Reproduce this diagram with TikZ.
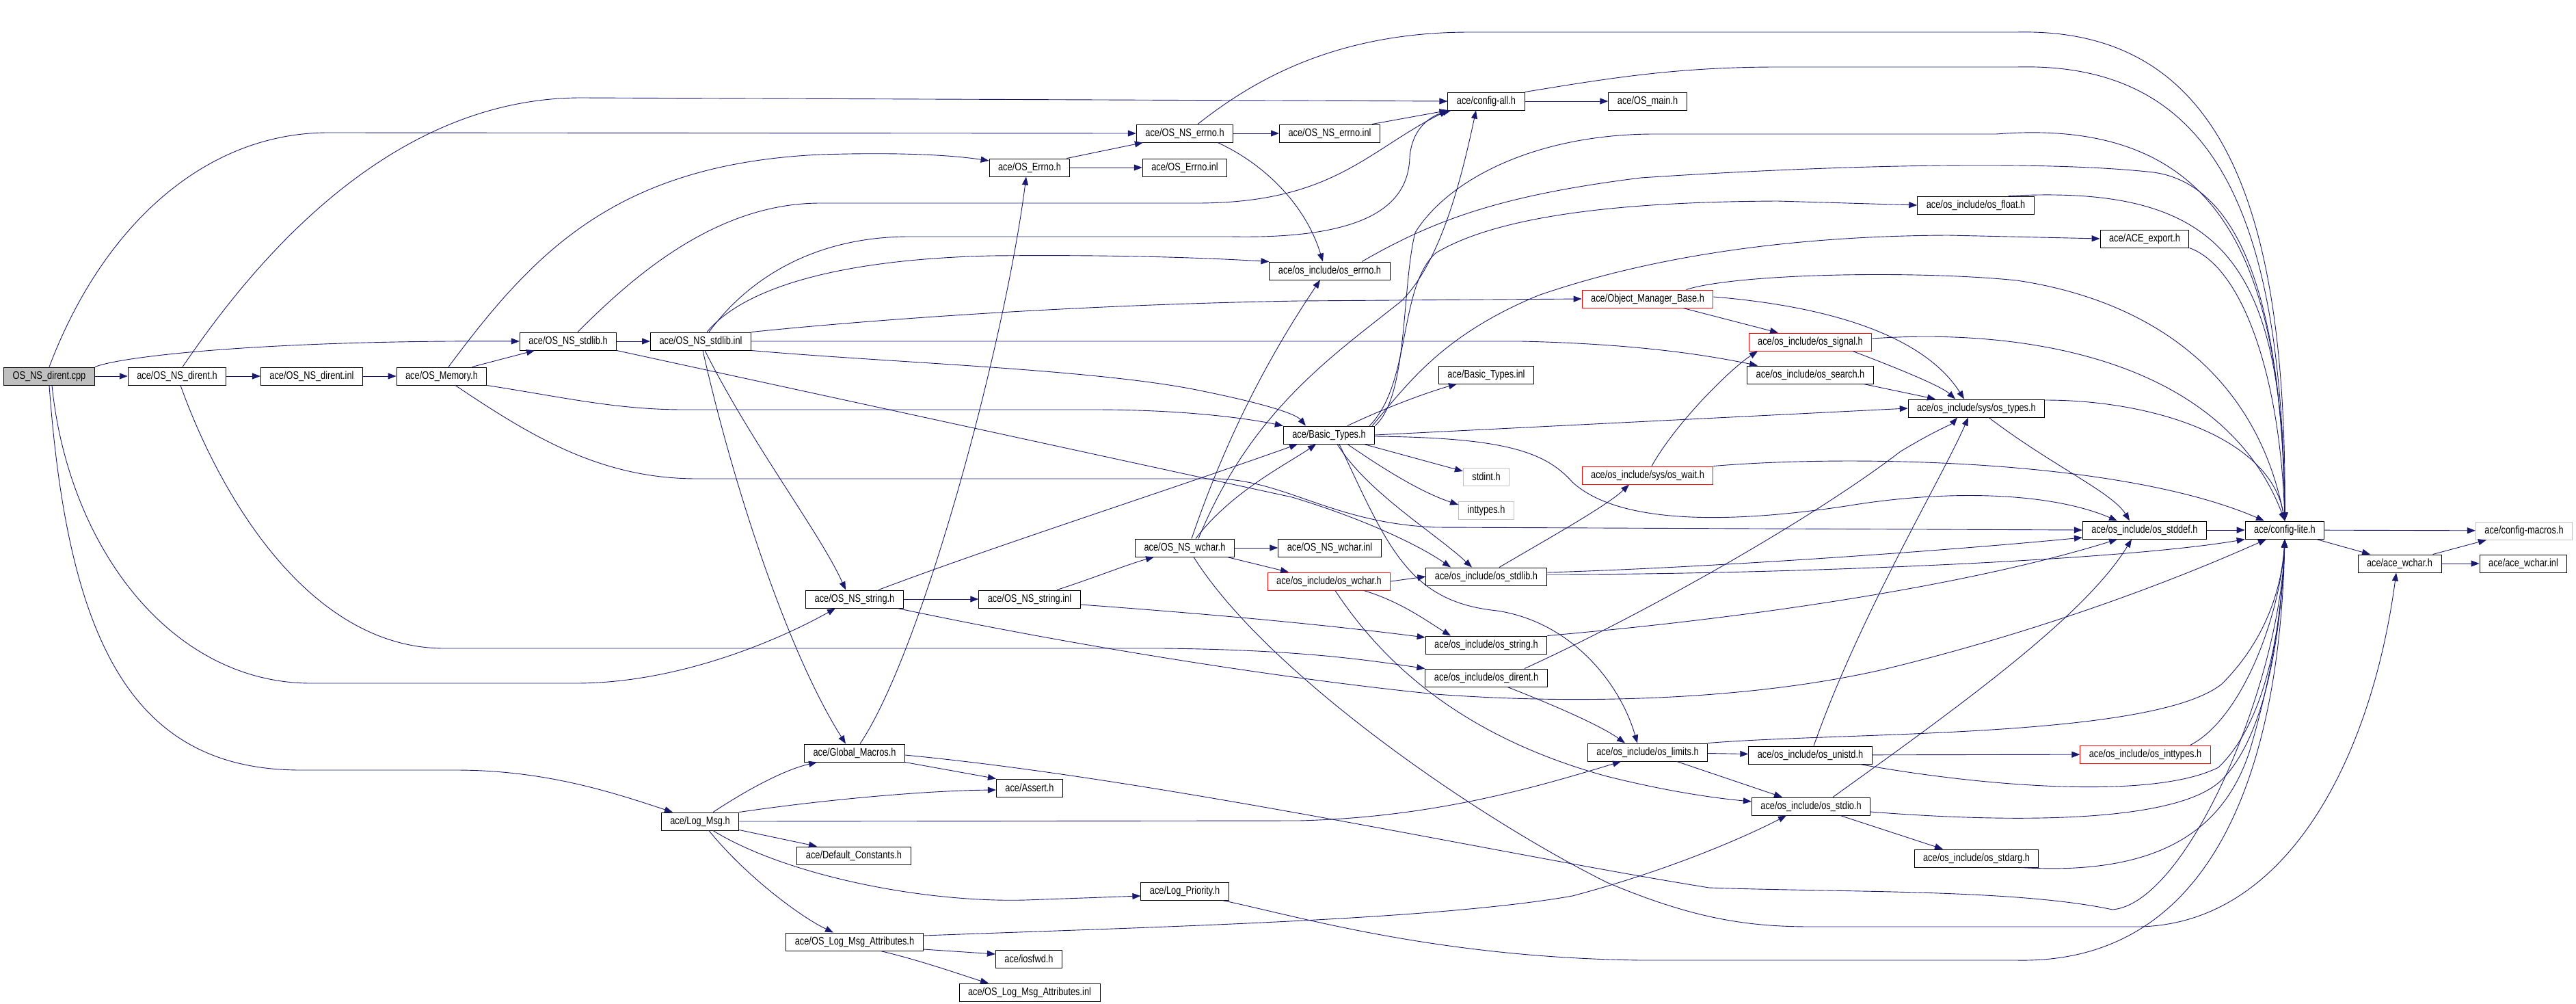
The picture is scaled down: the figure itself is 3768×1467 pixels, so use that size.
\documentclass[tikz,border=0pt]{standalone}
\usepackage{fontspec}
\newfontfamily\dotfont[FakeStretch=0.8]{Liberation Sans}
\usetikzlibrary{arrows.meta}
\definecolor{edgeBlue}{RGB}{25,25,112}
\definecolor{rootGray}{RGB}{191,191,191}

\begin{document}
\begin{tikzpicture}[
        x=1pt, y=-1pt,
        fileNode/.style={rectangle, draw=black, line width=1pt, minimum height=26pt, inner xsep=13pt, inner ysep=0pt, font=\dotfont\fontsize{16}{18}\selectfont},
        rootNode/.style={fileNode, fill=rootGray},
        redNode/.style={fileNode, draw=red},
        grayNode/.style={fileNode, draw=rootGray},
        incEdge/.style={draw=edgeBlue, line width=0.9pt, -{Triangle[length=12pt,width=9pt]}}
    ]
        \useasboundingbox (0,0) rectangle (3768,1467);

        % Root node
        \node[rootNode] (cpp) at (72,550) {OS\_NS\_dirent.cpp};

        % Headers
        \node[fileNode] (nsDirentH) at (259,550) {ace/OS\_NS\_dirent.h};
        \node[fileNode] (nsDirentInl) at (456,550) {ace/OS\_NS\_dirent.inl};
        \node[fileNode] (osMemory) at (646,550) {ace/OS\_Memory.h};
        \node[fileNode] (nsStdlibH) at (831,499) {ace/OS\_NS\_stdlib.h};
        \node[fileNode] (nsStdlibInl) at (1025,499) {ace/OS\_NS\_stdlib.inl};
        \node[fileNode] (nsErrnoH) at (1733,195) {ace/OS\_NS\_errno.h};
        \node[fileNode] (nsErrnoInl) at (1945,195) {ace/OS\_NS\_errno.inl};
        \node[fileNode] (errnoH) at (1506,245) {ace/OS\_Errno.h};
        \node[fileNode] (errnoInl) at (1733,245) {ace/OS\_Errno.inl};
        \node[fileNode] (configAll) at (2174,148) {ace/config-all.h};
        \node[fileNode] (osMain) at (2410,148) {ace/OS\_main.h};
        \node[fileNode] (incErrno) at (1945,396) {ace/os\_include/os\_errno.h};
        \node[redNode] (objMgr) at (2410,437) {ace/Object\_Manager\_Base.h};
        \node[redNode] (incSignal) at (2648,500) {ace/os\_include/os\_signal.h};
        \node[fileNode] (incSearch) at (2648,548) {ace/os\_include/os\_search.h};
        \node[fileNode] (basicTypes) at (1944,636) {ace/Basic\_Types.h};
        \node[fileNode] (basicTypesInl) at (2174,548) {ace/Basic\_Types.inl};
        \node[grayNode] (stdintH) at (2174,697) {stdint.h};
        \node[grayNode] (inttypesH) at (2174,746) {inttypes.h};
        \node[redNode] (incWait) at (2410,695) {ace/os\_include/sys/os\_wait.h};
        \node[fileNode] (incFloat) at (2890,300) {ace/os\_include/os\_float.h};
        \node[fileNode] (aceExport) at (3137,349) {ace/ACE\_export.h};
        \node[fileNode] (incTypes) at (2891,597) {ace/os\_include/sys/os\_types.h};
        \node[fileNode] (nsWcharH) at (1733,801) {ace/OS\_NS\_wchar.h};
        \node[fileNode] (nsWcharInl) at (1945,801) {ace/OS\_NS\_wchar.inl};
        \node[redNode] (incWchar) at (1944,850) {ace/os\_include/os\_wchar.h};
        \node[fileNode] (incStdlib) at (2174,843) {ace/os\_include/os\_stdlib.h};
        \node[fileNode] (incString) at (2174,943) {ace/os\_include/os\_string.h};
        \node[fileNode] (incDirent) at (2174,991) {ace/os\_include/os\_dirent.h};
        \node[fileNode] (incLimits) at (2410,1100) {ace/os\_include/os\_limits.h};
        \node[fileNode] (incUnistd) at (2648,1104) {ace/os\_include/os\_unistd.h};
        \node[fileNode] (incStdio) at (2649,1179) {ace/os\_include/os\_stdio.h};
        \node[fileNode] (incStdarg) at (2891,1255) {ace/os\_include/os\_stdarg.h};
        \node[fileNode] (incStddef) at (3137,775) {ace/os\_include/os\_stddef.h};
        \node[fileNode] (configLite) at (3342,775) {ace/config-lite.h};
        \node[grayNode] (configMacros) at (3692,776) {ace/config-macros.h};
        \node[fileNode] (aceWcharH) at (3510,824) {ace/ace\_wchar.h};
        \node[fileNode] (aceWcharInl) at (3691,824) {ace/ace\_wchar.inl};
        \node[redNode] (incInttypes) at (3138,1103) {ace/os\_include/os\_inttypes.h};
        \node[fileNode] (nsStringH) at (1250,876) {ace/OS\_NS\_string.h};
        \node[fileNode] (nsStringInl) at (1506,876) {ace/OS\_NS\_string.inl};
        \node[fileNode] (globalMacros) at (1250,1101) {ace/Global\_Macros.h};
        \node[fileNode] (assertH) at (1506,1152) {ace/Assert.h};
        \node[fileNode] (logMsg) at (1024,1201) {ace/Log\_Msg.h};
        \node[fileNode] (defConst) at (1249,1251) {ace/Default\_Constants.h};
        \node[fileNode] (logPrio) at (1733,1303) {ace/Log\_Priority.h};
        \node[fileNode] (logAttr) at (1250,1377) {ace/OS\_Log\_Msg\_Attributes.h};
        \node[fileNode] (iosfwdH) at (1505,1402) {ace/iosfwd.h};
        \node[fileNode] (logAttrInl) at (1506,1451) {ace/OS\_Log\_Msg\_Attributes.inl};

        % Edges from the root
        \draw[incEdge] (cpp) -- (nsDirentH);
        \draw[incEdge] (cpp.north east) .. controls (180,520) and (400,497) .. (nsStdlibH.west);
        \draw[incEdge] (cpp.north) .. controls (150,330) and (300,194) .. (480,194) -- (nsErrnoH.west);
        \draw[incEdge] ([xshift=4pt]cpp.south) .. controls (100,800) and (250,999) .. (455,999) -- (842,999) .. controls (1000,999) and (1150,930) .. ([xshift=-28pt]nsStringH.south);
        \draw[incEdge] (cpp.south) .. controls (100,950) and (200,1126) .. (440,1126) -- (667,1126) .. controls (800,1126) and (900,1160) .. ([xshift=-40pt]logMsg.north);

        % OS_NS_dirent and OS_Memory
        \draw[incEdge] (nsDirentH) -- (nsDirentInl);
        \draw[incEdge] ([xshift=8pt]nsDirentH.north) .. controls (360,400) and (560,143) .. (850,143) -- (configAll.west);
        \draw[incEdge] ([xshift=5pt]nsDirentH.south) .. controls (320,720) and (450,948) .. (650,948) -- (1700,948) .. controls (1900,950) and (2000,965) .. (incDirent.north west);
        \draw[incEdge] (nsDirentInl) -- (osMemory);
        \draw[incEdge] ([xshift=-22pt]osMemory.north east) -- ([xshift=-49pt]nsStdlibH.south);
        \draw[incEdge] ([xshift=10pt]osMemory.north) .. controls (780,370) and (900,240) .. (1200,226) .. controls (1330,222) and (1400,228) .. ([yshift=10pt]errnoH.west);
        \draw[incEdge] (osMemory.south east) .. controls (820,580) and (900,599) .. (1000,599) -- (1600,599) .. controls (1750,599) and (1840,615) .. (basicTypes.north west);
        \draw[incEdge] ([xshift=20pt]osMemory.south) .. controls (780,640) and (880,700) .. (1020,700) -- (1780,700) .. controls (1880,702) and (1950,765) .. (2100,771) -- (incStddef.west);

        % OS_NS_stdlib
        \draw[incEdge] (nsStdlibH) -- (nsStdlibInl);
        \draw[incEdge] ([xshift=14pt]nsStdlibH.north) .. controls (930,400) and (1050,297) .. (1200,297) -- (1750,297) .. controls (1950,297) and (2000,220) .. (configAll.south west);
        \draw[incEdge] (nsStdlibH.south east) -- (1890,727) .. controls (2000,760) and (2080,800) .. ([xshift=-52pt]incStdlib.north);
        \draw[incEdge] ([xshift=12pt]nsStdlibInl.north) .. controls (1100,400) and (1200,346) .. (1330,346) -- (1800,346) .. controls (2000,350) and (2060,300) .. (2062,230) .. controls (2065,190) and (2090,170) .. ([xshift=5pt]configAll.south west);
        \draw[incEdge] ([xshift=9pt]nsStdlibInl.north) .. controls (1080,430) and (1200,380) .. (1450,374) .. controls (1650,372) and (1780,378) .. (incErrno.north west);
        \draw[incEdge] (nsStdlibInl.north east) .. controls (1300,465) and (1600,445) .. (1900,440) -- (objMgr.west);
        \draw[incEdge] (nsStdlibInl.east) -- (2225,499) .. controls (2400,503) and (2500,520) .. ([xshift=-77pt]incSearch.north);
        \draw[incEdge] (nsStdlibInl.south east) .. controls (1300,530) and (1600,540) .. (1750,570) .. controls (1850,590) and (1895,605) .. ([xshift=-34pt]basicTypes.north);
        \draw[incEdge] ([xshift=3pt]nsStdlibInl.south) .. controls (1070,700) and (1150,950) .. ([xshift=-13pt]globalMacros.north);
        \draw[incEdge] ([xshift=6pt]nsStdlibInl.south) .. controls (1100,650) and (1200,780) .. ([xshift=-13pt]nsStringH.north);

        % errno headers and config-all
        \draw[incEdge] (nsErrnoH) -- (nsErrnoInl);
        \draw[incEdge] ([xshift=19pt]nsErrnoH.north) .. controls (1830,120) and (1950,47) .. (2150,47) -- (2950,47) .. controls (3250,40) and (3345,300) .. (configLite.north);
        \draw[incEdge] ([xshift=-23pt]nsErrnoH.south east) .. controls (1850,240) and (1910,300) .. ([xshift=-10pt]incErrno.north);
        \draw[incEdge] (errnoH) -- (errnoInl);
        \draw[incEdge] ([xshift=-5pt]errnoH.north east) -- ([xshift=10pt]nsErrnoH.south west);
        \draw[incEdge] ([xshift=-12pt]nsErrnoInl.north east) -- (configAll.south west);
        \draw[incEdge] (configAll) -- (osMain);
        \draw[incEdge] (configAll.north east) .. controls (2350,115) and (2450,98) .. (2600,98) -- (2950,98) .. controls (3250,90) and (3338,330) .. (configLite.north);
        \draw[incEdge] ([xshift=47pt]incErrno.north) .. controls (2100,320) and (2200,285) .. (2400,260) .. controls (2700,240) and (3000,235) .. (3150,252) .. controls (3280,270) and (3338,450) .. (configLite.north);

        % Object_Manager_Base, signal, search, wait
        \draw[incEdge] ([xshift=52pt]objMgr.south) -- ([xshift=-47pt]incSignal.north);
        \draw[incEdge] ([xshift=-40pt]objMgr.north east) .. controls (2540,400) and (2800,395) .. (2950,410) .. controls (3150,440) and (3300,550) .. (configLite.north);
        \draw[incEdge] ([yshift=3pt]objMgr.east) .. controls (2700,450) and (2820,500) .. ([xshift=-18pt]incTypes.north);
        \draw[incEdge] ([yshift=5pt]incSignal.east) .. controls (2950,480) and (3250,520) .. (configLite.north);
        \draw[incEdge] ([xshift=62pt]incSignal.south) .. controls (2780,540) and (2840,565) .. ([xshift=-31pt]incTypes.north);
        \draw[incEdge] ([xshift=-15pt]incSearch.south east) -- ([xshift=-60pt]incTypes.north);
        \draw[incEdge] ([xshift=6pt]incWait.north) .. controls (2450,620) and (2530,540) .. ([xshift=-77pt]incSignal.south);
        \draw[incEdge] (incWait.north east) .. controls (2700,665) and (3100,670) .. ([xshift=-30pt]configLite.north);

        % Basic_Types
        \draw[incEdge] ([xshift=27pt]basicTypes.north) .. controls (2040,590) and (2100,570) .. ([xshift=-43pt]basicTypesInl.south);
        \draw[incEdge] ([xshift=51pt]basicTypes.south) -- ([yshift=8pt]stdintH.west);
        \draw[incEdge] ([xshift=27pt]basicTypes.south) .. controls (2030,690) and (2080,720) .. ([yshift=8pt]inttypesH.west);
        \draw[incEdge] ([xshift=-8pt]basicTypes.north east) .. controls (2065,560) and (2045,420) .. (2100,370) .. controls (2200,310) and (2400,295) .. (2600,294) -- (incFloat.west);
        \draw[incEdge] ([xshift=-4pt]basicTypes.north east) .. controls (2060,560) and (2110,490) .. (2250,432) .. controls (2400,380) and (2600,345) .. (2850,344) -- (aceExport.west);
        \draw[incEdge] (basicTypes.north east) .. controls (2060,580) and (2050,420) .. (2070,340) .. controls (2120,260) and (2250,196) .. (2420,196) -- (2920,196) .. controls (3250,170) and (3338,380) .. (configLite.north);
        \draw[incEdge] (basicTypes.east) -- (incTypes.west);
        \draw[incEdge] ([yshift=-2pt]basicTypes.east) .. controls (2200,640) and (2260,660) .. (2300,705) .. controls (2360,760) and (2500,770) .. (2700,740) .. controls (2850,715) and (3000,720) .. ([xshift=-40pt]incStddef.north);
        \draw[incEdge] ([xshift=15pt]basicTypes.south) .. controls (2030,800) and (2060,880) .. (2190,893) .. controls (2300,910) and (2370,1000) .. ([xshift=-15pt]incLimits.north);
        \draw[incEdge] ([xshift=12pt]basicTypes.south) .. controls (2000,720) and (2100,780) .. ([xshift=-21pt]incStdlib.north);

        % os_float, ACE_export, os_types, os_stddef, config-lite
        \draw[incEdge] ([xshift=-38pt]incFloat.north east) .. controls (3250,270) and (3340,380) .. (configLite.north);
        \draw[incEdge] (aceExport.south east) .. controls (3280,390) and (3335,550) .. (configLite.north);
        \draw[incEdge] ([yshift=12pt]incTypes.east) .. controls (3150,585) and (3320,640) .. (configLite.north);
        \draw[incEdge] ([xshift=18pt]incTypes.south) .. controls (3000,680) and (3090,720) .. ([xshift=-22pt]incStddef.north);
        \draw[incEdge] (incStddef) -- (configLite);
        \draw[incEdge] (configLite) -- (configMacros);
        \draw[incEdge] ([xshift=-12pt]configLite.south east) -- ([xshift=-43pt]aceWcharH.north);
        \draw[incEdge] ([xshift=-13pt]aceWcharH.north east) -- ([xshift=-55pt]configMacros.south);
        \draw[incEdge] (aceWcharH) -- (aceWcharInl);

        % OS_NS_wchar and os_wchar
        \draw[incEdge] (nsWcharH) -- (nsWcharInl);
        \draw[incEdge] ([xshift=-11pt]nsWcharH.south east) -- ([xshift=-59pt]incWchar.north);
        \draw[incEdge] ([xshift=13pt]nsWcharH.south) .. controls (1850,980) and (2150,1190) .. (2350,1290) .. controls (2480,1345) and (2560,1355) .. (2650,1355) -- (3130,1355) .. controls (3350,1350) and (3470,1100) .. ([xshift=-5pt]aceWcharH.south);
        \draw[incEdge] ([xshift=10pt]nsWcharH.north) .. controls (1800,620) and (1870,500) .. ([xshift=-14pt]incErrno.south);
        \draw[incEdge] ([xshift=16pt]nsWcharH.north) .. controls (1800,720) and (1880,680) .. ([xshift=-19pt]basicTypes.south);
        \draw[incEdge] ([xshift=20pt]nsWcharH.north) .. controls (1830,600) and (1950,520) .. (2050,440) .. controls (2110,380) and (2140,250) .. ([xshift=-15pt]configAll.south);
        \draw[incEdge] (incWchar.east) -- (incStdlib.west);
        \draw[incEdge] ([xshift=51pt]incWchar.south) .. controls (2050,880) and (2090,910) .. ([xshift=-52pt]incString.north);
        \draw[incEdge] ([xshift=9pt]incWchar.south) .. controls (2030,980) and (2150,1080) .. (2350,1135) .. controls (2450,1160) and (2520,1168) .. ([yshift=7pt]incStdio.west);

        % os_stdlib, os_string, os_dirent
        \draw[incEdge] ([yshift=3pt]incStdlib.east) .. controls (2600,840) and (3100,820) .. (configLite.south west);
        \draw[incEdge] ([yshift=6pt]incStdlib.east) .. controls (2500,830) and (2850,805) .. ([yshift=-11pt]incStddef.west);
        \draw[incEdge] ([xshift=19pt]incStdlib.north) .. controls (2260,790) and (2350,740) .. ([xshift=-27pt]incWait.south);
        \draw[incEdge] (incString.north east) .. controls (2600,900) and (2900,850) .. ([xshift=-40pt]incStddef.south);
        \draw[incEdge] ([xshift=56pt]incDirent.north) .. controls (2400,900) and (2650,760) .. (2780,660) .. controls (2830,630) and (2855,620) .. ([xshift=-28pt]incTypes.south);
        \draw[incEdge] ([xshift=31pt]incDirent.south) .. controls (2270,1030) and (2340,1060) .. ([xshift=-33pt]incLimits.north);

        % os_limits, os_unistd, os_stdio, os_stdarg, os_inttypes
        \draw[incEdge] (incLimits) -- (incUnistd);
        \draw[incEdge] ([xshift=43pt]incLimits.south) -- ([xshift=-42pt]incStdio.north);
        \draw[incEdge] (incLimits.north east) .. controls (2700,1070) and (3150,1080) .. (3250,1000) .. controls (3320,930) and (3338,850) .. (configLite.south);
        \draw[incEdge] (incUnistd) -- (incInttypes);
        \draw[incEdge] ([xshift=-18pt]incUnistd.south east) .. controls (2900,1150) and (3150,1170) .. (3245,1122) .. controls (3320,1050) and (3338,900) .. (configLite.south);
        \draw[incEdge] ([xshift=5pt]incUnistd.north) .. controls (2720,900) and (2840,700) .. ([xshift=-12pt]incTypes.south);
        \draw[incEdge] ([xshift=43pt]incStdio.south) -- ([xshift=-49pt]incStdarg.north);
        \draw[incEdge] ([yshift=-8pt]incStdio.east) .. controls (2900,1200) and (3180,1210) .. (3250,1140) .. controls (3320,1070) and (3338,900) .. (configLite.south);
        \draw[incEdge] ([xshift=32pt]incStdio.north) .. controls (2870,1030) and (3050,900) .. ([xshift=-19pt]incStddef.south);
        \draw[incEdge] ([xshift=-26pt]incStdarg.south east) .. controls (3150,1280) and (3250,1220) .. (3290,1100) .. controls (3320,1000) and (3338,900) .. (configLite.south);
        \draw[incEdge] ([xshift=-30pt]incInttypes.north east) .. controls (3280,1050) and (3335,900) .. (configLite.south);

        % OS_NS_string
        \draw[incEdge] (nsStringH) -- (nsStringInl);
        \draw[incEdge] ([xshift=35pt]nsStringH.north) .. controls (1450,800) and (1700,720) .. ([xshift=-46pt]basicTypes.south);
        \draw[incEdge] ([xshift=-9pt]nsStringH.south east) .. controls (1600,950) and (1900,995) .. (2100,1015) .. controls (2300,1030) and (2550,1025) .. (2750,980) .. controls (3000,920) and (3200,840) .. ([xshift=-27pt]configLite.south);
        \draw[incEdge] ([xshift=40pt]nsStringInl.north) .. controls (1600,845) and (1650,825) .. ([xshift=-45pt]nsWcharH.south);
        \draw[incEdge] ([yshift=-8pt]nsStringInl.east) .. controls (1800,900) and (1950,915) .. ([yshift=11pt]incString.west);

        % Global_Macros and Log_Msg
        \draw[incEdge] ([xshift=8pt]globalMacros.north) .. controls (1350,950) and (1470,500) .. ([xshift=-5pt]errnoH.south);
        \draw[incEdge] (globalMacros.south east) -- (assertH.north west);
        \draw[incEdge] ([yshift=-3pt]globalMacros.east) .. controls (1700,1140) and (2200,1250) .. (2500,1298) .. controls (2700,1305) and (2950,1300) .. (3090,1330) .. controls (3200,1320) and (3335,1000) .. (configLite.south);
        \draw[incEdge] ([xshift=19pt]logMsg.north) .. controls (1100,1150) and (1150,1125) .. ([xshift=-55pt]globalMacros.south);
        \draw[incEdge] (logMsg.north east) .. controls (1200,1170) and (1350,1156) .. ([yshift=-3pt]assertH.west);
        \draw[incEdge] (logMsg.east) -- (1900,1200) .. controls (2100,1195) and (2250,1150) .. ([xshift=-39pt]incLimits.south);
        \draw[incEdge] ([yshift=1pt]logMsg.south east) -- ([xshift=-54pt]defConst.north);
        \draw[incEdge] ([xshift=19pt]logMsg.south) .. controls (1150,1280) and (1350,1320) .. (1500,1316) -- ([yshift=-7pt]logPrio.west);
        \draw[incEdge] ([xshift=13pt]logMsg.south) .. controls (1090,1280) and (1170,1340) .. ([xshift=-31pt]logAttr.north);

        % OS_Log_Msg_Attributes and Log_Priority
        \draw[incEdge] ([yshift=9pt]logAttr.east) .. controls (1700,1355) and (2100,1345) .. (2300,1310) .. controls (2450,1270) and (2560,1220) .. ([xshift=-36pt]incStdio.south);
        \draw[incEdge] ([yshift=-11pt]logAttr.east) -- ([yshift=7pt]iosfwdH.west);
        \draw[incEdge] ([xshift=38pt]logAttr.south) .. controls (1350,1405) and (1420,1430) .. ([xshift=-60pt]logAttrInl.north);
        \draw[incEdge] ([xshift=55pt]logPrio.south) .. controls (1900,1340) and (2100,1400) .. (2400,1404) -- (2950,1404) .. controls (3250,1410) and (3335,1100) .. (configLite.south);
    \end{tikzpicture}
\end{document}
